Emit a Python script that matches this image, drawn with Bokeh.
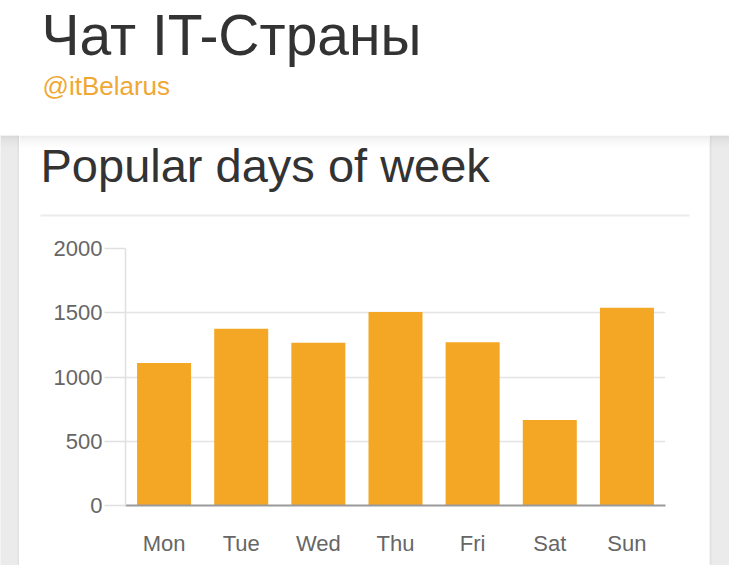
from bokeh.plotting import figure
from bokeh.models import Range1d, FixedTicker
from bokeh.layouts import column, row
from bokeh.core.properties import value
from bokeh.embed import file_html
from bokeh.resources import INLINE

# ---- data ----
days = ["Mon", "Tue", "Wed", "Thu", "Fri", "Sat", "Sun"]
counts = [1108, 1375, 1266, 1505, 1271, 665, 1539]
y_ticks = [0, 500, 1000, 1500, 2000]

header_title = "Чат IT-Страны"
header_sub = "@itBelarus"
card_title = "Popular days of week"

FONT = "Liberation Sans"
BAR = "#F4A724"
GRAY_BG = "#ebebeb"
SHADOW = [0.07, 0.05, 0.035, 0.025, 0.015, 0.008]


def blank(w, h, x0, x1, y0, y1, bg):
    f = figure(width=w, height=h, x_range=Range1d(x0, x1), y_range=Range1d(y1, y0),
               output_backend="svg", toolbar_location=None, min_border=0,
               x_axis_type=None, y_axis_type=None, outline_line_color=None,
               background_fill_color=bg, border_fill_color=bg)
    f.grid.visible = False
    f.frame_align = False
    return f


def header_shadow(f, x0, x1):
    for i, a in enumerate(SHADOW):
        f.quad(left=[x0], right=[x1], top=[143 + 2 * i], bottom=[145 + 2 * i],
               fill_color="#000000", fill_alpha=a, line_color=None)


# ---- header (page coordinates) ----
head = blank(729, 135, 8, 737, 8, 143, "white")
head.text(x=[49], y=[42], text=[header_title], text_font=value(FONT),
          text_font_size="57px", text_color="#333333", text_baseline="alphabetic")
head.text(x=[50], y=[93], text=[header_sub], text_font=value(FONT),
          text_font_size="26px", text_color="#F0A835", text_baseline="alphabetic")

# ---- side strips ----
left_strip = blank(19, 430, 8, 27, 143, 573, GRAY_BG)
left_strip.quad(left=[25], right=[27], top=[143], bottom=[573], fill_color="#000000",
                fill_alpha=0.04, line_color=None)
header_shadow(left_strip, 8, 27)
right_strip = blank(20, 430, 717, 737, 143, 573, GRAY_BG)
right_strip.quad(left=[717], right=[719], top=[143], bottom=[573], fill_color="#000000",
                 fill_alpha=0.04, line_color=None)
header_shadow(right_strip, 717, 737)

# ---- card title ----
ct = blank(690, 97, 27, 717, 143, 240, "white")
header_shadow(ct, 27, 717)
ct.text(x=[48], y=[173], text=[card_title], text_font=value(FONT),
        text_font_size="47px", text_color="#333333", text_baseline="alphabetic")
ct.segment(x0=[48], x1=[697], y0=[223], y1=[223], line_color="#ececec", line_width=2)

# ---- chart ----
p = figure(x_range=days, y_range=Range1d(0, 2000), width=690, height=333,
           output_backend="svg", toolbar_location=None,
           min_border_left=106, min_border_right=44, min_border_top=16, min_border_bottom=60,
           outline_line_color=None, background_fill_color="white", border_fill_color="white")
p.frame_align = False
p.x_range.range_padding = 0
p.vbar(x=days, top=counts, width=0.7, fill_color=BAR, line_color=None)

p.xgrid.visible = False
p.ygrid.grid_line_color = "#e4e4e4"
p.ygrid.grid_line_width = 1.5
p.yaxis.ticker = FixedTicker(ticks=y_ticks)
p.yaxis.axis_line_color = "#e0e0e0"
p.yaxis.axis_line_width = 1.5
p.yaxis.major_tick_out = 21
p.yaxis.major_tick_in = 0
p.yaxis.major_tick_line_color = "#e0e0e0"
p.yaxis.major_tick_line_width = 1.5
p.yaxis.minor_tick_line_color = None
p.yaxis.major_label_standoff = 2
p.yaxis.major_label_text_font = FONT
p.yaxis.major_label_text_font_size = "22px"
p.yaxis.major_label_text_color = "#666666"

p.xaxis.axis_line_color = "#9a9a9a"
p.xaxis.axis_line_width = 2
p.xaxis.major_tick_line_color = None
p.xaxis.minor_tick_line_color = None
p.xaxis.major_label_standoff = 19
p.xaxis.major_label_text_font = FONT
p.xaxis.major_label_text_font_size = "22px"
p.xaxis.major_label_text_color = "#666666"

card = column(ct, p, spacing=0)
layout = column(head, row(left_strip, card, right_strip, spacing=0), spacing=0)

open("out.html", "w").write(file_html(layout, INLINE))
